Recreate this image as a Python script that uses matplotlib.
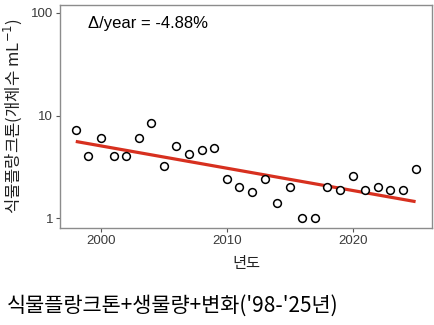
import numpy as np
import matplotlib

matplotlib.use("Agg")
import matplotlib.pyplot as plt

plt.rcParams["font.family"] = ["Noto Sans CJK KR", "DejaVu Sans"]

years = list(range(1998, 2026))
density = [7.3, 4.0, 6.0, 4.0, 4.0, 6.0, 8.4, 3.2, 5.0, 4.2, 4.6, 4.8,
           2.4, 2.0, 1.8, 2.4, 1.4, 2.0, 1.0, 1.0, 2.0, 1.9, 2.6, 1.9,
           2.0, 1.9, 1.9, 3.0]

# log-linear trend: start value and yearly change in percent
trend_start = 5.6
trend_rate = -4.88

fig = plt.figure(figsize=(4.35, 3.25), dpi=100)
ax = fig.add_axes([0.138, 0.298, 0.855, 0.687])

x = np.array(years)
trend = trend_start * (1 + trend_rate / 100) ** (x - x[0])
ax.plot(x, trend, color="#d7301f", lw=2.3, solid_capstyle="butt", zorder=2)
ax.plot(x, density, "o", ms=5.6, mfc="white", mec="black", mew=1.1, zorder=3)

ax.set_yscale("log")
ax.set_ylim(0.8, 120)
ax.set_xlim(1996.75, 2026.3)
ax.set_yticks([1, 10, 100])
ax.set_yticklabels(["1", "10", "100"])
ax.yaxis.set_minor_locator(matplotlib.ticker.NullLocator())
ax.set_xticks([2000, 2010, 2020])

for sp in ax.spines.values():
    sp.set_color("#8c8c8c")
    sp.set_linewidth(1.0)
ax.tick_params(axis="both", colors="#555555", labelcolor="#3a3a3a",
               labelsize=9.5, length=3, width=0.8, pad=2)
for lbl in ax.get_xticklabels() + ax.get_yticklabels():
    lbl.set_family(["Liberation Sans", "DejaVu Sans"])

ax.set_ylabel("식물플랑크톤(개체수 mL$^{-1}$)", fontsize=12, color="#222222", labelpad=5)
ax.set_xlabel("년도", fontsize=11, color="#222222", labelpad=6)

ax.text(0.075, 0.915, f"Δ/year = {trend_rate:.2f}%", transform=ax.transAxes,
        fontsize=12, family=["Liberation Sans", "DejaVu Sans"], color="black",
        va="center", ha="left")

fig.text(0.015, 0.058, "식물플랑크톤+생물량+변화('98-'25년)", fontsize=15,
         color="black", va="center", ha="left")

fig.savefig("out.png", dpi=100, facecolor="white")
